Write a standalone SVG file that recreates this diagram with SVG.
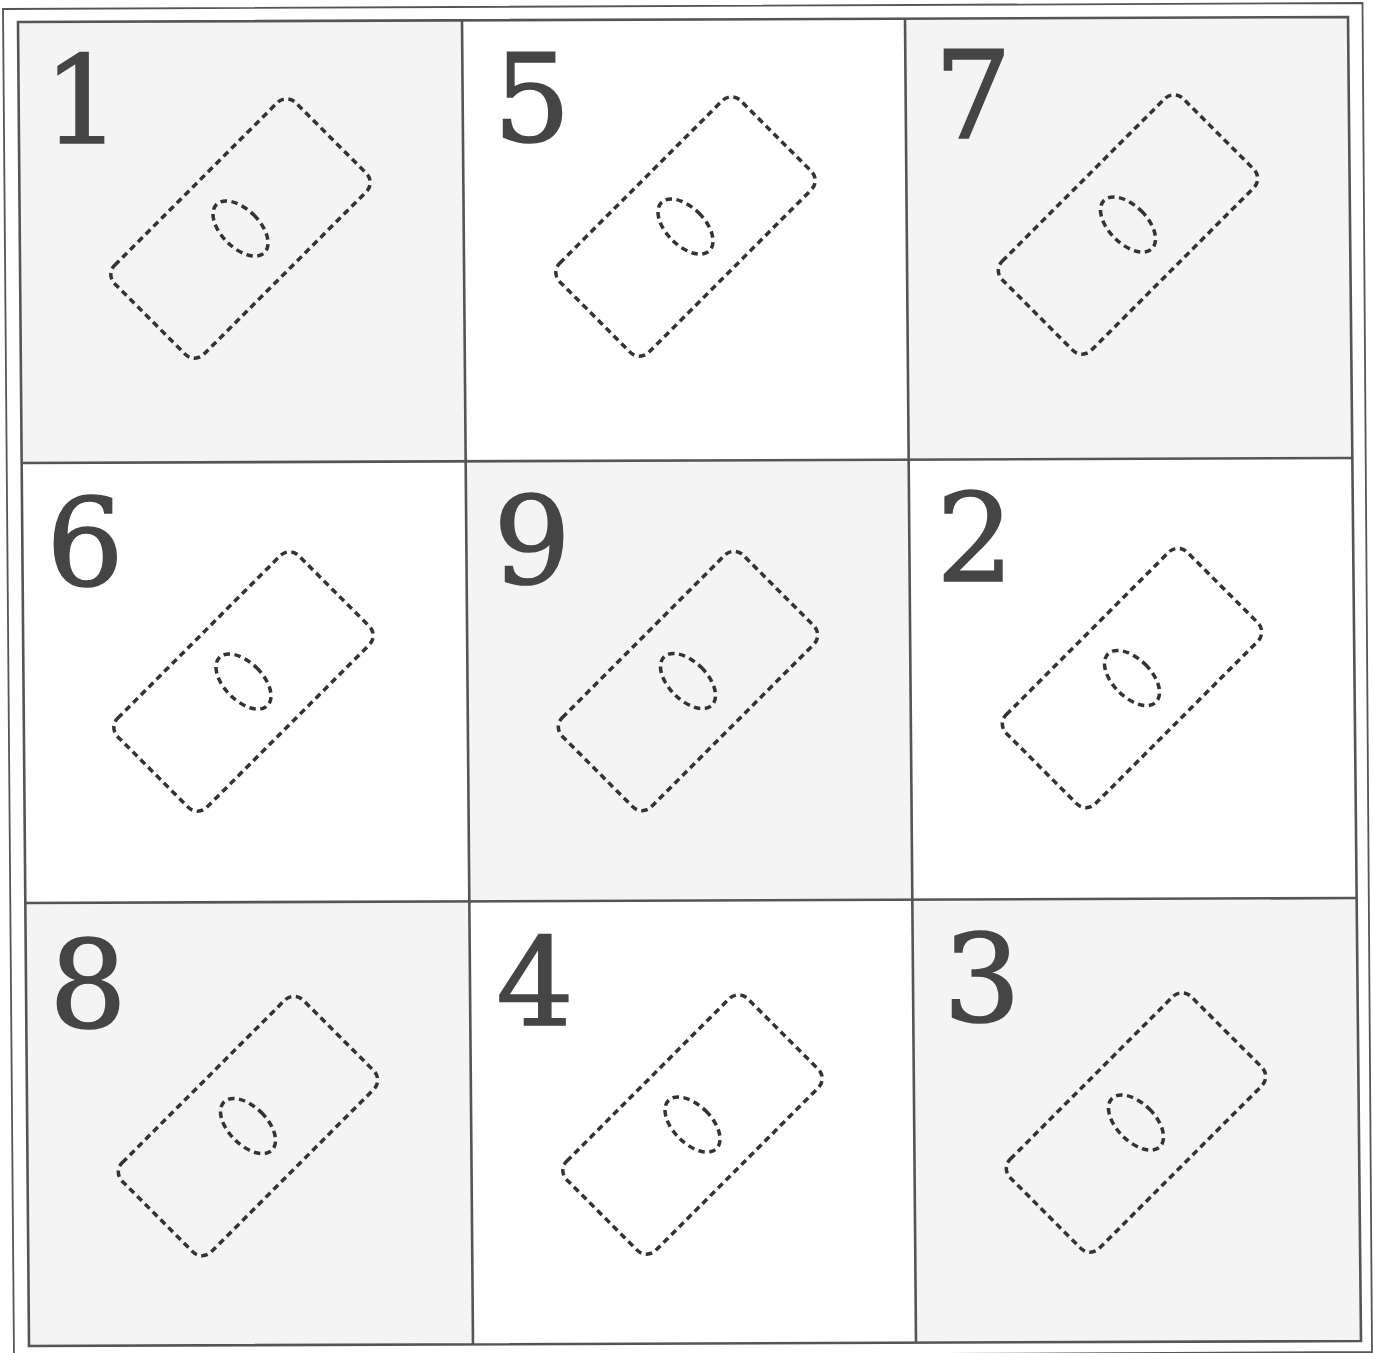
<svg xmlns="http://www.w3.org/2000/svg" xmlns:xlink="http://www.w3.org/1999/xlink" width="1373" height="1353" viewBox="0 0 1373 1353">
<style>
.bg{fill:#ffffff}
.shade{fill:#f4f4f4;stroke:none}
.num{font-family:"DejaVu Serif","Liberation Serif",serif;font-size:122px;fill:#454545;stroke:#454545;stroke-width:1.6;text-anchor:middle}
.dash{fill:none;stroke:#333333;stroke-width:3.5;stroke-dasharray:6.5 4.5}
.grid{fill:none;stroke:#555555;stroke-width:2.6}
.outer{fill:none;stroke:#555555;stroke-width:1.8}
</style>
<defs>
<g id="tile">
<rect class="dash" x="-128" y="-63" width="256" height="126" rx="13" ry="13"/>
<ellipse class="dash" cx="0" cy="0" rx="19" ry="34"/>
</g>
</defs>
<rect class="bg" x="0" y="0" width="1373" height="1353"/>
<g id="cell-1">
<polygon class="shade" points="18,22 462,20.3 465.7,461.3 21.6,463"/>
<text class="num" x="82" y="143">1</text>
<use xlink:href="#tile" href="#tile" transform="translate(240.5,228.5) rotate(-45)"/>
</g>
<g id="cell-5">
<text class="num" x="532" y="141">5</text>
<use xlink:href="#tile" href="#tile" transform="translate(685.5,226.5) rotate(-45)"/>
</g>
<g id="cell-7">
<polygon class="shade" points="905,18.7 1348,17 1352.3,458 908.7,459.6"/>
<text class="num" x="973" y="138">7</text>
<use xlink:href="#tile" href="#tile" transform="translate(1128,224.5) rotate(-45)"/>
</g>
<g id="cell-6">
<text class="num" x="85" y="585">6</text>
<use xlink:href="#tile" href="#tile" transform="translate(243.5,681.5) rotate(-45)"/>
</g>
<g id="cell-9">
<polygon class="shade" points="465.7,461.3 908.7,459.6 912.3,899.7 469.3,901.3"/>
<text class="num" x="532" y="583">9</text>
<use xlink:href="#tile" href="#tile" transform="translate(688,681) rotate(-45)"/>
</g>
<g id="cell-2">
<text class="num" x="975" y="581">2</text>
<use xlink:href="#tile" href="#tile" transform="translate(1132,678) rotate(-45)"/>
</g>
<g id="cell-8">
<polygon class="shade" points="25.3,903 469.3,901.3 473,1344.3 29,1346"/>
<text class="num" x="88" y="1027">8</text>
<use xlink:href="#tile" href="#tile" transform="translate(248,1126) rotate(-45)"/>
</g>
<g id="cell-4">
<text class="num" x="535" y="1025">4</text>
<use xlink:href="#tile" href="#tile" transform="translate(692.5,1124.5) rotate(-45)"/>
</g>
<g id="cell-3">
<polygon class="shade" points="912.3,899.7 1356.7,898 1361,1341 916,1342.7"/>
<text class="num" x="982" y="1021">3</text>
<use xlink:href="#tile" href="#tile" transform="translate(1136,1122.5) rotate(-45)"/>
</g>
<g id="grid">
<polygon class="outer" points="3,9 1362.5,3 1372,1352 14,1358"/>
<polygon class="grid" points="18,22 1348,17 1361,1341 29,1346"/>
<line class="grid" x1="462" y1="20.3" x2="473" y2="1344.3"/>
<line class="grid" x1="905" y1="18.7" x2="916" y2="1342.7"/>
<line class="grid" x1="21.6" y1="463" x2="1352.3" y2="458"/>
<line class="grid" x1="25.3" y1="903" x2="1356.7" y2="898"/>
</g>
</svg>
